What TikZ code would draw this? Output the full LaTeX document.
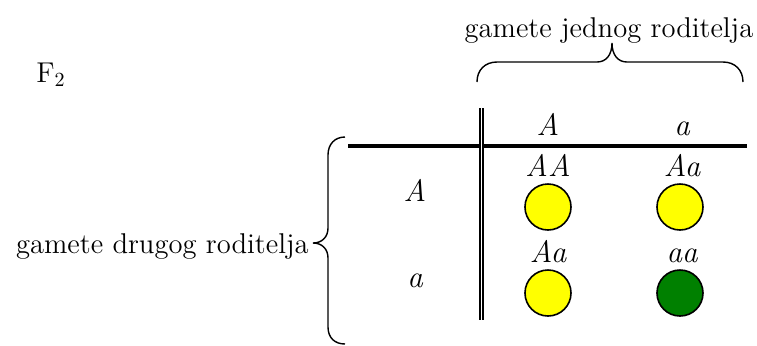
\documentclass[tikz,border=0pt]{standalone}
\definecolor{PeaYellow}{RGB}{255, 255, 0}
\definecolor{PeaGreen}{RGB}{0, 128, 0}

\begin{document}
\begin{tikzpicture}[
                x=0.5pt, y=-0.5pt,
                txt/.style={font=\fontsize{14.3}{17}\selectfont, inner sep=0pt},
                allele/.style={txt, font=\fontsize{15.5}{18}\selectfont\itshape, anchor=base},
                pea/.style={draw, circle, line width=0.8pt, minimum size=23pt, inner sep=0pt},
                yel/.style={pea, fill=PeaYellow},
                grn/.style={pea, fill=PeaGreen},
                brc/.style={draw, line width=0.7pt}
            ]
                \useasboundingbox (0, 0) rectangle (757, 345);

                % Labels
                \node[txt, anchor=base west] (gen) at (36, 82) {F\textsubscript{2}};
                \node[txt, anchor=base] (top) at (609, 37) {gamete jednog roditelja};
                \node[txt, anchor=base east] (side) at (309, 253) {gamete drugog roditelja};

                % Braces
                \draw[brc] (477, 82) .. controls (477, 70) and (485, 62) .. (497, 62) -- (597, 62)
                    .. controls (606, 62) and (612, 55) .. (612, 43)
                    .. controls (612, 55) and (618, 62) .. (627, 62)
                    -- (723, 62) .. controls (735, 62) and (743, 70) .. (743, 82);
                \draw[brc] (345, 137) .. controls (335, 137) and (328, 144) .. (328, 155) -- (328, 228)
                    .. controls (328, 237) and (322, 243) .. (313, 243)
                    .. controls (322, 243) and (328, 249) .. (328, 258)
                    -- (328, 327) .. controls (328, 338) and (335, 344) .. (345, 344);

                % Grid lines
                \coordinate (hl) at (348, 145.5);
                \coordinate (hr) at (747, 145.5);
                \coordinate (vt) at (481.5, 108);
                \coordinate (vb) at (481.5, 320);
                \draw[line width=2pt] (hl) -- (hr);
                \draw[line width=0.85pt, double, double distance=0.7pt] (vt) -- (vb);

                % Headers
                \node[allele] (cA) at (548, 135) {A};
                \node[allele] (ca) at (682, 135) {a};
                \node[allele] (rA) at (415, 201) {A};
                \node[allele] (ra) at (415, 287) {a};

                % Offspring
                \node[allele] (gAA) at (548, 176) {AA};
                \node[allele] (gAa1) at (682, 176) {Aa};
                \node[allele] (gAa2) at (548, 262) {Aa};
                \node[allele] (gaa) at (682, 262) {aa};
                \node[yel] (pAA) at (548, 207) {};
                \node[yel] (pAa1) at (680, 207) {};
                \node[yel] (pAa2) at (548, 293) {};
                \node[grn] (paa) at (680, 293) {};
            \end{tikzpicture}
\end{document}
